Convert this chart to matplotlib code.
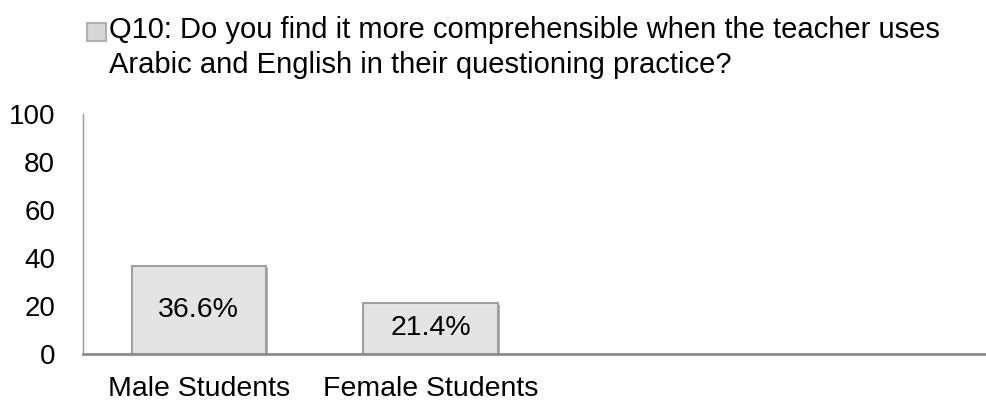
import matplotlib.pyplot as plt
import matplotlib.patheffects as pe
import matplotlib.patches as mpatches
from matplotlib.legend_handler import HandlerPatch

# Daten aus der Grafik
categories = ['Male Students', 'Female Students']
values = [36.6, 21.4]
value_labels = ['36.6%', '21.4%']
series_name = ('Q10: Do you find it more comprehensible when the teacher uses\n'
               'Arabic and English in their questioning practice?')
y_ticks = [0, 20, 40, 60, 80, 100]

plt.rcParams['font.family'] = ['Liberation Sans', 'DejaVu Sans']


def top_marker(legend, orig_handle, xdescent, ydescent, width, height, fontsize):
    # Marker auf Hoehe der ersten Textzeile setzen
    return mpatches.Rectangle((-xdescent, -ydescent + 0.55 * fontsize), width, height)


fig = plt.figure(figsize=(9.87, 4.01), dpi=100)
ax = fig.add_axes([0.084, 0.117, 0.916, 0.599])

x = list(range(len(categories)))
bars = ax.bar(x, values, width=0.58, color='#e4e4e4', edgecolor='#a0a0a0',
              linewidth=1.5, label=series_name, zorder=3)
for b in bars:
    b.set_path_effects([pe.SimplePatchShadow(offset=(1.5, -1.5), shadow_rgbFace='#9a9a9a', alpha=0.8),
                        pe.Normal()])

# Beschriftung in der Mitte der Balken
for xi, v, lab in zip(x, values, value_labels):
    ax.text(xi, v / 2, lab, ha='center', va='center', fontsize=20.5, color='black', zorder=4)

ax.set_xlim(-0.5, 3.4)
ax.set_ylim(0, 100)
ax.set_yticks(y_ticks)
ax.set_yticklabels([str(t) for t in y_ticks], fontsize=20)
ax.set_xticks(x)
ax.set_xticklabels(categories, fontsize=20.5)
ax.tick_params(axis='y', length=0, pad=20)
ax.tick_params(axis='x', length=0, pad=16)

for s in ['top', 'right']:
    ax.spines[s].set_visible(False)
ax.spines['left'].set_color('#9a9a9a')
ax.spines['left'].set_linewidth(1.0)
ax.spines['bottom'].set_color('#8c8c8c')
ax.spines['bottom'].set_linewidth(2.0)
ax.spines['bottom'].set_zorder(5)

leg = fig.legend(handles=[bars[0]], labels=[series_name], loc='upper left',
                 bbox_to_anchor=(0.088, 0.96), frameon=False, fontsize=21,
                 handlelength=0.65, handleheight=0.55, handletextpad=0.1,
                 borderaxespad=0, borderpad=0, labelspacing=0,
                 handler_map={mpatches.Rectangle: HandlerPatch(patch_func=top_marker)})
leg.get_texts()[0].set_linespacing(1.3)
leg.legend_handles[0].set_facecolor('#d6d6d6')
leg.legend_handles[0].set_edgecolor('#b0b0b0')
leg.legend_handles[0].set_path_effects([])

fig.savefig('out.png', dpi=100)
